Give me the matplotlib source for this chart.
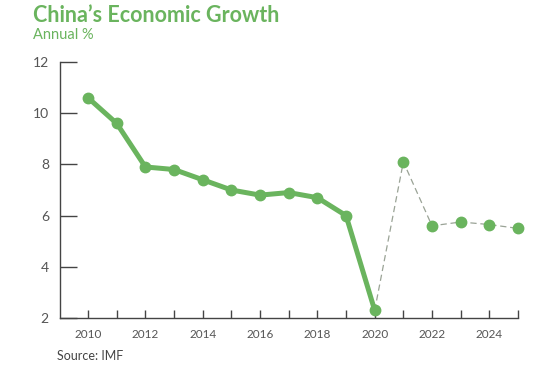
import numpy as np
import matplotlib.pyplot as plt
from matplotlib.ticker import MultipleLocator

# data
years_actual = [2010, 2011, 2012, 2013, 2014, 2015, 2016, 2017, 2018, 2019, 2020]
growth_actual = [10.6, 9.6, 7.9, 7.8, 7.4, 7.0, 6.8, 6.9, 6.7, 6.0, 2.3]
years_forecast = [2020, 2021, 2022, 2023, 2024, 2025]
growth_forecast = [2.3, 8.1, 5.6, 5.75, 5.65, 5.5]
xtick_years = [2010, 2012, 2014, 2016, 2018, 2020, 2022, 2024]
yticks = [2, 4, 6, 8, 10, 12]

green = '#6ab45e'
grey = '#555555'

plt.rcParams['font.family'] = ['Lato', 'DejaVu Sans']

fig = plt.figure(figsize=(5.48, 3.72), dpi=100)
ax = fig.add_axes([60 / 548, 1 - 318 / 372, (518 - 60) / 548, (318 - 62) / 372])

ax.plot(years_forecast, growth_forecast, '--', color='#9aa396', lw=0.9, dashes=(5, 3), zorder=2)
ax.plot(years_forecast[1:], growth_forecast[1:], 'o', color=green, ms=7.5, zorder=3)
ax.plot(years_actual, growth_actual, '-o', color=green, lw=3.6, ms=7.5, zorder=4)

ax.set_xlim(2009.02, 2025)
ax.set_ylim(2, 12)
ax.set_xticks(xtick_years)
ax.xaxis.set_minor_locator(MultipleLocator(1))
ax.set_yticks(yticks)

for s in ['top', 'right']:
    ax.spines[s].set_visible(False)
for s in ['left', 'bottom']:
    ax.spines[s].set_color('#444444')
    ax.spines[s].set_linewidth(1.0)

ax.tick_params(axis='y', direction='in', length=12, width=1, color='#444444',
               labelsize=10, labelcolor=grey, pad=8)
ax.tick_params(axis='x', which='both', direction='in', length=6, width=1, color='#444444')
ax.tick_params(axis='x', labelsize=8.5, labelcolor=grey, pad=8)
for ln in ax.lines:
    ln.set_clip_on(False)

fig.text(33 / 548, 1 - 15 / 372, "China\u2019s Economic Growth", color=green,
         fontsize=15.5, fontweight='bold', va='center', ha='left')
fig.text(33 / 548, 1 - 35 / 372, "Annual %", color=green, fontsize=10.5,
         va='center', ha='left')
fig.text(57 / 548, 1 - 356 / 372, "Source: IMF", color='#444444', fontsize=9,
         va='center', ha='left')

fig.savefig('out.png', dpi=100)
